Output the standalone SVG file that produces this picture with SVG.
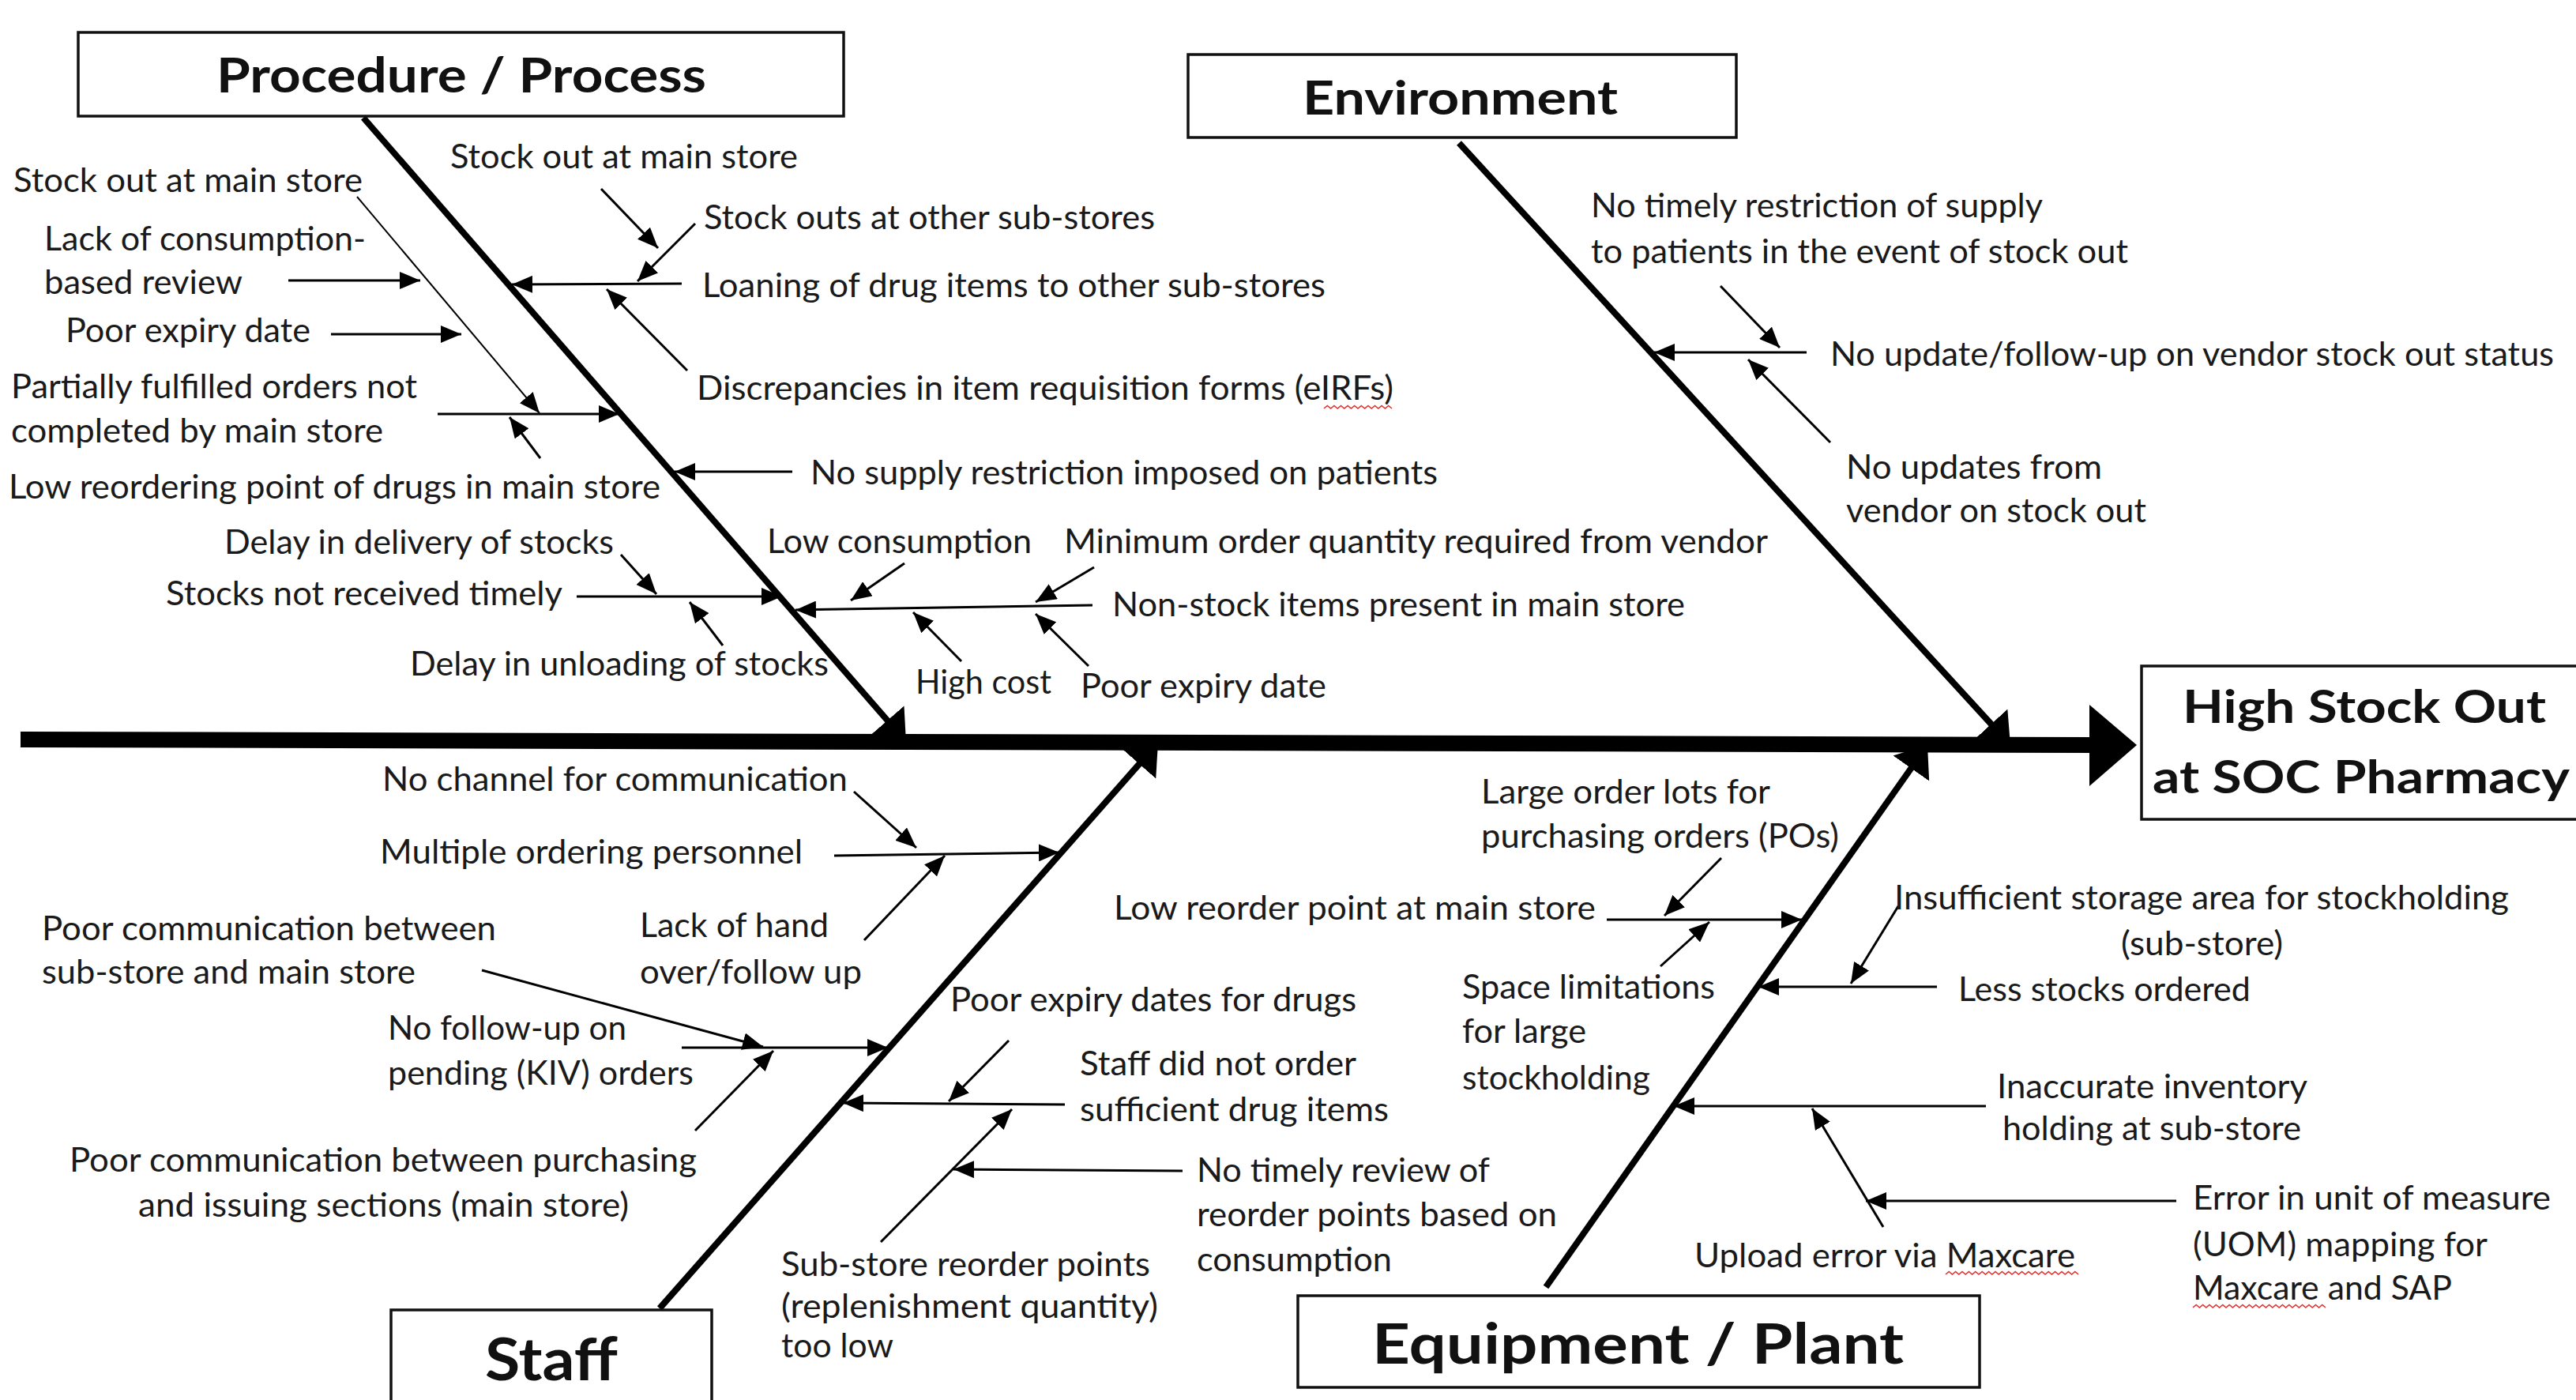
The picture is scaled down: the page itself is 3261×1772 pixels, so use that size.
<svg xmlns="http://www.w3.org/2000/svg" width="3261" height="1772" viewBox="0 0 3261 1772">
<defs>
<style>
.t{font-family:Lato,"Liberation Sans",sans-serif;font-size:43px;fill:#1a1a1a}
.h{font-family:Lato,"Liberation Sans",sans-serif;font-weight:bold;fill:#111}
.box{fill:#fff;stroke:#111;stroke-width:3.5}
.bone{stroke:#000;stroke-width:8;fill:none}
.c{stroke:#000;stroke-width:3;fill:none}
.sq{stroke:#e03030;stroke-width:1.6;fill:none}
</style>
<marker id="big" markerUnits="userSpaceOnUse" markerWidth="36" markerHeight="56" refX="36" refY="28" orient="auto">
<path d="M0,0 L36,28 L0,56 z" fill="#000"/>
</marker>
<marker id="ah" markerUnits="userSpaceOnUse" markerWidth="26" markerHeight="22" refX="26" refY="11" orient="auto">
<path d="M0,0 L26,11 L0,22 z" fill="#000"/>
</marker>
</defs>
<rect width="3261" height="1772" fill="#fff"/>

<g id="spine">
<line x1="26" y1="936" x2="2652" y2="943" stroke="#000" stroke-width="20"/>
<polygon points="2645,892 2705,943 2645,995" fill="#000"/>
</g>

<g id="bones">
<line class="bone" x1="460" y1="149" x2="1147" y2="939" marker-end="url(#big)"/>
<line class="bone" x1="1847" y1="181" x2="2545" y2="943" marker-end="url(#big)"/>
<line class="bone" x1="835" y1="1656" x2="1466" y2="940" marker-end="url(#big)"/>
<line class="bone" x1="1957" y1="1629" x2="2440" y2="943" marker-end="url(#big)"/>
</g>

<g id="connectors">
<line class="c" style="stroke-width:2" x1="452" y1="249" x2="683" y2="523" marker-end="url(#ah)"/>
<line class="c" x1="365" y1="355" x2="532" y2="355" marker-end="url(#ah)"/>
<line class="c" x1="419" y1="423" x2="584" y2="423" marker-end="url(#ah)"/>
<line class="c" x1="554" y1="524" x2="784" y2="524" marker-end="url(#ah)"/>
<line class="c" x1="684" y1="580" x2="645" y2="528" marker-end="url(#ah)"/>
<line class="c" x1="761" y1="239" x2="833" y2="314" marker-end="url(#ah)"/>
<line class="c" x1="880" y1="283" x2="807" y2="356" marker-end="url(#ah)"/>
<line class="c" x1="863" y1="359" x2="648" y2="360" marker-end="url(#ah)"/>
<line class="c" x1="870" y1="469" x2="768" y2="366" marker-end="url(#ah)"/>
<line class="c" x1="1003" y1="597" x2="854" y2="597" marker-end="url(#ah)"/>
<line class="c" x1="786" y1="702" x2="831" y2="752" marker-end="url(#ah)"/>
<line class="c" x1="730" y1="755" x2="990" y2="755" marker-end="url(#ah)"/>
<line class="c" x1="915" y1="817" x2="873" y2="762" marker-end="url(#ah)"/>
<line class="c" x1="1383" y1="766" x2="1007" y2="772" marker-end="url(#ah)"/>
<line class="c" x1="1145" y1="713" x2="1077" y2="760" marker-end="url(#ah)"/>
<line class="c" x1="1385" y1="718" x2="1311" y2="762" marker-end="url(#ah)"/>
<line class="c" x1="1217" y1="837" x2="1156" y2="775" marker-end="url(#ah)"/>
<line class="c" x1="1378" y1="843" x2="1311" y2="777" marker-end="url(#ah)"/>
<line class="c" x1="2178" y1="362" x2="2253" y2="440" marker-end="url(#ah)"/>
<line class="c" x1="2287" y1="446" x2="2094" y2="446" marker-end="url(#ah)"/>
<line class="c" x1="2317" y1="560" x2="2213" y2="455" marker-end="url(#ah)"/>
<line class="c" x1="1081" y1="1002" x2="1160" y2="1073" marker-end="url(#ah)"/>
<line class="c" x1="1056" y1="1083" x2="1341" y2="1079" marker-end="url(#ah)"/>
<line class="c" x1="1094" y1="1190" x2="1196" y2="1083" marker-end="url(#ah)"/>
<line class="c" x1="610" y1="1228" x2="966" y2="1325" marker-end="url(#ah)"/>
<line class="c" x1="863" y1="1326" x2="1124" y2="1326" marker-end="url(#ah)"/>
<line class="c" x1="880" y1="1431" x2="979" y2="1330" marker-end="url(#ah)"/>
<line class="c" x1="1277" y1="1317" x2="1201" y2="1394" marker-end="url(#ah)"/>
<line class="c" x1="1348" y1="1398" x2="1067" y2="1396" marker-end="url(#ah)"/>
<line class="c" x1="1115" y1="1572" x2="1281" y2="1404" marker-end="url(#ah)"/>
<line class="c" x1="1497" y1="1482" x2="1207" y2="1480" marker-end="url(#ah)"/>
<line class="c" x1="2179" y1="1086" x2="2107" y2="1159" marker-end="url(#ah)"/>
<line class="c" x1="2034" y1="1164" x2="2281" y2="1164" marker-end="url(#ah)"/>
<line class="c" x1="2102" y1="1223" x2="2164" y2="1167" marker-end="url(#ah)"/>
<line class="c" x1="2403" y1="1147" x2="2343" y2="1245" marker-end="url(#ah)"/>
<line class="c" x1="2452" y1="1249" x2="2226" y2="1249" marker-end="url(#ah)"/>
<line class="c" x1="2514" y1="1400" x2="2119" y2="1400" marker-end="url(#ah)"/>
<line class="c" x1="2384" y1="1553" x2="2294" y2="1403" marker-end="url(#ah)"/>
<line class="c" x1="2755" y1="1520" x2="2362" y2="1520" marker-end="url(#ah)"/>
</g>

<g id="procedure">
<rect class="box" x="99" y="41" width="969" height="106"/>
<text class="h" x="274" y="117" font-size="61" textLength="620" lengthAdjust="spacingAndGlyphs">Procedure / Process</text>
</g>
<g id="environment">
<rect class="box" x="1504" y="69" width="694" height="105"/>
<text class="h" x="1649" y="145" font-size="59" textLength="399" lengthAdjust="spacingAndGlyphs">Environment</text>
</g>
<g id="effect">
<rect class="box" x="2711" y="843" width="570" height="194"/>
<text class="h" x="2763" y="915" font-size="58" textLength="460" lengthAdjust="spacingAndGlyphs">High Stock Out</text>
<text class="h" x="2725" y="1004" font-size="58" textLength="528" lengthAdjust="spacingAndGlyphs">at SOC Pharmacy</text>
</g>
<g id="staff">
<rect class="box" x="495" y="1658" width="406" height="130"/>
<text class="h" x="614" y="1747" font-size="74" textLength="168" lengthAdjust="spacingAndGlyphs">Staff</text>
</g>
<g id="equipment">
<rect class="box" x="1643" y="1640" width="863" height="116"/>
<text class="h" x="1737" y="1726" font-size="70" textLength="673" lengthAdjust="spacingAndGlyphs">Equipment / Plant</text>
</g>

<g id="labels" transform="translate(0,3)">
<g id="p1"><text class="t" x="17" y="240" textLength="442" lengthAdjust="spacingAndGlyphs">Stock out at main store</text></g>
<g id="p2"><text class="t" x="56" y="314" textLength="407" lengthAdjust="spacingAndGlyphs">Lack of consumption-</text><text class="t" x="56" y="369" textLength="251" lengthAdjust="spacingAndGlyphs">based review</text></g>
<g id="p3"><text class="t" x="83" y="430" textLength="310" lengthAdjust="spacingAndGlyphs">Poor expiry date</text></g>
<g id="p4"><text class="t" x="14" y="501" textLength="514" lengthAdjust="spacingAndGlyphs">Partially fulfilled orders not</text><text class="t" x="14" y="557" textLength="471" lengthAdjust="spacingAndGlyphs">completed by main store</text></g>
<g id="p5"><text class="t" x="11" y="628" textLength="825" lengthAdjust="spacingAndGlyphs">Low reordering point of drugs in main store</text></g>
<g id="p6"><text class="t" x="284" y="698" textLength="493" lengthAdjust="spacingAndGlyphs">Delay in delivery of stocks</text></g>
<g id="p7"><text class="t" x="210" y="763" textLength="502" lengthAdjust="spacingAndGlyphs">Stocks not received timely</text></g>
<g id="p8"><text class="t" x="519" y="852" textLength="530" lengthAdjust="spacingAndGlyphs">Delay in unloading of stocks</text></g>
<g id="p9"><text class="t" x="570" y="210" textLength="440" lengthAdjust="spacingAndGlyphs">Stock out at main store</text></g>
<g id="p10"><text class="t" x="891" y="287" textLength="571" lengthAdjust="spacingAndGlyphs">Stock outs at other sub-stores</text></g>
<g id="p11"><text class="t" x="889" y="373" textLength="789" lengthAdjust="spacingAndGlyphs">Loaning of drug items to other sub-stores</text></g>
<g id="p12"><text class="t" x="882" y="503" textLength="882" lengthAdjust="spacingAndGlyphs">Discrepancies in item requisition forms (eIRFs)</text>
<path class="sq" d="M1676,514 l4.3,-3.5 l4.3,3.5 l4.3,-3.5 l4.3,3.5 l4.3,-3.5 l4.3,3.5 l4.3,-3.5 l4.3,3.5 l4.3,-3.5 l4.3,3.5 l4.3,-3.5 l4.3,3.5 l4.3,-3.5 l4.3,3.5 l4.3,-3.5 l4.3,3.5 l4.3,-3.5 l4.3,3.5 l4.3,-3.5 l4.3,3.5"/></g>
<g id="p13"><text class="t" x="1026" y="610" textLength="794" lengthAdjust="spacingAndGlyphs">No supply restriction imposed on patients</text></g>
<g id="p14"><text class="t" x="971" y="697" textLength="335" lengthAdjust="spacingAndGlyphs">Low consumption</text></g>
<g id="p15"><text class="t" x="1347" y="697" textLength="891" lengthAdjust="spacingAndGlyphs">Minimum order quantity required from vendor</text></g>
<g id="p16"><text class="t" x="1408" y="777" textLength="725" lengthAdjust="spacingAndGlyphs">Non-stock items present in main store</text></g>
<g id="p17"><text class="t" x="1159" y="875" textLength="172" lengthAdjust="spacingAndGlyphs">High cost</text></g>
<g id="p18"><text class="t" x="1368" y="880" textLength="311" lengthAdjust="spacingAndGlyphs">Poor expiry date</text></g>

<g id="e1"><text class="t" x="2014" y="272" textLength="572" lengthAdjust="spacingAndGlyphs">No timely restriction of supply</text><text class="t" x="2014" y="330" textLength="680" lengthAdjust="spacingAndGlyphs">to patients in the event of stock out</text></g>
<g id="e2"><text class="t" x="2317" y="460" textLength="916" lengthAdjust="spacingAndGlyphs">No update/follow-up on vendor stock out status</text></g>
<g id="e3"><text class="t" x="2337" y="603" textLength="324" lengthAdjust="spacingAndGlyphs">No updates from</text><text class="t" x="2337" y="658" textLength="380" lengthAdjust="spacingAndGlyphs">vendor on stock out</text></g>

<g id="s1"><text class="t" x="484" y="998" textLength="589" lengthAdjust="spacingAndGlyphs">No channel for communication</text></g>
<g id="s2"><text class="t" x="481" y="1090" textLength="535" lengthAdjust="spacingAndGlyphs">Multiple ordering personnel</text></g>
<g id="s3"><text class="t" x="53" y="1187" textLength="575" lengthAdjust="spacingAndGlyphs">Poor communication between</text><text class="t" x="53" y="1242" textLength="473" lengthAdjust="spacingAndGlyphs">sub-store and main store</text></g>
<g id="s4"><text class="t" x="810" y="1183" textLength="239" lengthAdjust="spacingAndGlyphs">Lack of hand</text><text class="t" x="810" y="1242" textLength="281" lengthAdjust="spacingAndGlyphs">over/follow up</text></g>
<g id="s5"><text class="t" x="491" y="1313" textLength="302" lengthAdjust="spacingAndGlyphs">No follow-up on</text><text class="t" x="491" y="1370" textLength="387" lengthAdjust="spacingAndGlyphs">pending (KIV) orders</text></g>
<g id="s6"><text class="t" x="88" y="1480" textLength="794" lengthAdjust="spacingAndGlyphs">Poor communication between purchasing</text><text class="t" x="175" y="1537" textLength="621" lengthAdjust="spacingAndGlyphs">and issuing sections (main store)</text></g>
<g id="s7"><text class="t" x="1203" y="1277" textLength="514" lengthAdjust="spacingAndGlyphs">Poor expiry dates for drugs</text></g>
<g id="s8"><text class="t" x="1367" y="1358" textLength="350" lengthAdjust="spacingAndGlyphs">Staff did not order</text><text class="t" x="1367" y="1416" textLength="391" lengthAdjust="spacingAndGlyphs">sufficient drug items</text></g>
<g id="s9"><text class="t" x="1515" y="1493" textLength="371" lengthAdjust="spacingAndGlyphs">No timely review of</text><text class="t" x="1515" y="1549" textLength="456" lengthAdjust="spacingAndGlyphs">reorder points based on</text><text class="t" x="1515" y="1606" textLength="247" lengthAdjust="spacingAndGlyphs">consumption</text></g>
<g id="s10"><text class="t" x="989" y="1612" textLength="467" lengthAdjust="spacingAndGlyphs">Sub-store reorder points</text><text class="t" x="989" y="1665" textLength="477" lengthAdjust="spacingAndGlyphs">(replenishment quantity)</text><text class="t" x="989" y="1715" textLength="142" lengthAdjust="spacingAndGlyphs">too low</text></g>

<g id="q1"><text class="t" x="1875" y="1014" textLength="366" lengthAdjust="spacingAndGlyphs">Large order lots for</text><text class="t" x="1875" y="1070" textLength="453" lengthAdjust="spacingAndGlyphs">purchasing orders (POs)</text></g>
<g id="q2"><text class="t" x="1410" y="1161" textLength="610" lengthAdjust="spacingAndGlyphs">Low reorder point at main store</text></g>
<g id="q3"><text class="t" x="1851" y="1261" textLength="320" lengthAdjust="spacingAndGlyphs">Space limitations</text><text class="t" x="1851" y="1317" textLength="157" lengthAdjust="spacingAndGlyphs">for large</text><text class="t" x="1851" y="1376" textLength="238" lengthAdjust="spacingAndGlyphs">stockholding</text></g>
<g id="q4"><text class="t" x="2398" y="1148" textLength="778" lengthAdjust="spacingAndGlyphs">Insufficient storage area for stockholding</text><text class="t" x="2685" y="1206" textLength="205" lengthAdjust="spacingAndGlyphs">(sub-store)</text></g>
<g id="q5"><text class="t" x="2479" y="1264" textLength="370" lengthAdjust="spacingAndGlyphs">Less stocks ordered</text></g>
<g id="q6"><text class="t" x="2528" y="1387" textLength="393" lengthAdjust="spacingAndGlyphs">Inaccurate inventory</text><text class="t" x="2535" y="1440" textLength="378" lengthAdjust="spacingAndGlyphs">holding at sub-store</text></g>
<g id="q7"><text class="t" x="2776" y="1528" textLength="453" lengthAdjust="spacingAndGlyphs">Error in unit of measure</text><text class="t" x="2776" y="1587" textLength="373" lengthAdjust="spacingAndGlyphs">(UOM) mapping for</text><text class="t" x="2776" y="1642" textLength="328" lengthAdjust="spacingAndGlyphs">Maxcare and SAP</text>
<path class="sq" d="M2776,1652 l4.2,-3.5 l4.2,3.5 l4.2,-3.5 l4.2,3.5 l4.2,-3.5 l4.2,3.5 l4.2,-3.5 l4.2,3.5 l4.2,-3.5 l4.2,3.5 l4.2,-3.5 l4.2,3.5 l4.2,-3.5 l4.2,3.5 l4.2,-3.5 l4.2,3.5 l4.2,-3.5 l4.2,3.5 l4.2,-3.5 l4.2,3.5 l4.2,-3.5 l4.2,3.5 l4.2,-3.5 l4.2,3.5 l4.2,-3.5 l4.2,3.5 l4.2,-3.5 l4.2,3.5 l4.2,-3.5 l4.2,3.5 l4.2,-3.5 l4.2,3.5 l4.2,-3.5 l4.2,3.5 l4.2,-3.5 l4.2,3.5 l4.2,-3.5 l4.2,3.5 l4.2,-3.5 l4.2,3.5"/></g>
<g id="q8"><text class="t" x="2145" y="1601" textLength="482" lengthAdjust="spacingAndGlyphs">Upload error via Maxcare</text>
<path class="sq" d="M2463,1610 l4.2,-3.5 l4.2,3.5 l4.2,-3.5 l4.2,3.5 l4.2,-3.5 l4.2,3.5 l4.2,-3.5 l4.2,3.5 l4.2,-3.5 l4.2,3.5 l4.2,-3.5 l4.2,3.5 l4.2,-3.5 l4.2,3.5 l4.2,-3.5 l4.2,3.5 l4.2,-3.5 l4.2,3.5 l4.2,-3.5 l4.2,3.5 l4.2,-3.5 l4.2,3.5 l4.2,-3.5 l4.2,3.5 l4.2,-3.5 l4.2,3.5 l4.2,-3.5 l4.2,3.5 l4.2,-3.5 l4.2,3.5 l4.2,-3.5 l4.2,3.5 l4.2,-3.5 l4.2,3.5 l4.2,-3.5 l4.2,3.5 l4.2,-3.5 l4.2,3.5 l4.2,-3.5 l4.2,3.5"/></g>
</g>
</svg>
